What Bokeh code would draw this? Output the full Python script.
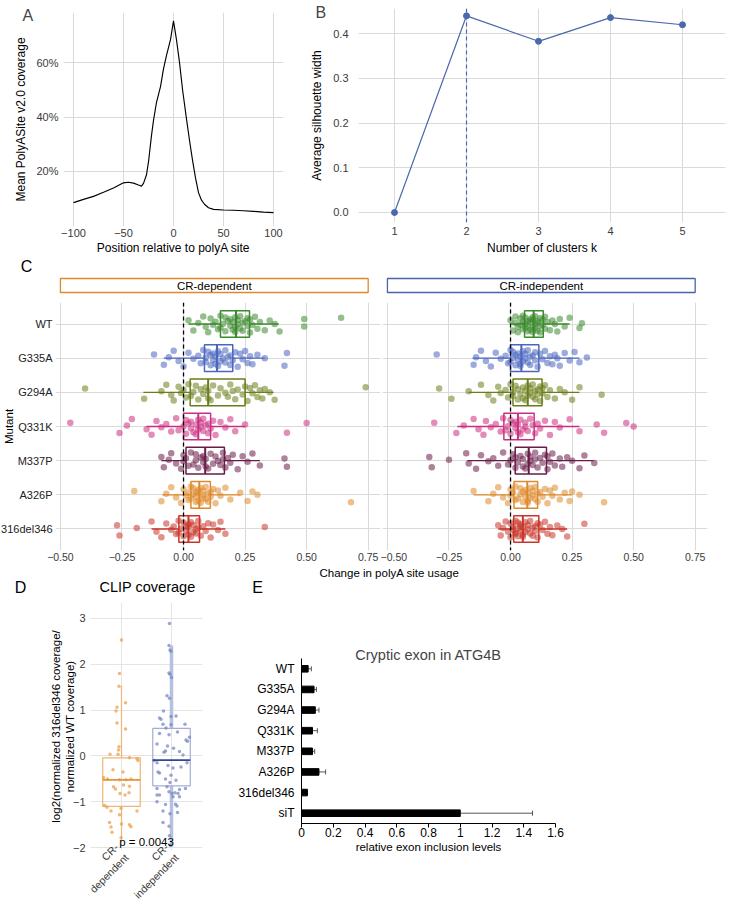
import math
from bokeh.plotting import figure
from bokeh.layouts import column, row
from bokeh.models import (Range1d, FactorRange, FixedTicker, Label, Span, Whisker, TeeHead, Title,
                          ColumnDataSource, CustomJSTickFormatter, PrintfTickFormatter)
from bokeh.embed import file_html
from bokeh.resources import INLINE

FONT = "Liberation Sans"
GRID = "#DADADA"
TICK_COLOR = "#3A3A3A"

# ---------------- Panel A data ----------------
A_POS = [-100, -90, -80, -70, -60, -50, -45, -40, -35, -32, -30, -27, -25, -22, -20, -17, -13, -10, -7, -3,
         0, 3, 6, 9, 13, 16, 19, 22, 25, 28, 31, 35, 40, 50, 60, 70, 80, 90, 100]
A_COV = [8.5, 9.7, 10.8, 12.3, 13.9, 15.8, 16.0, 15.7, 15.0, 14.6, 15.6, 18.8, 23.5, 33.3, 38.8, 45.5, 51.3, 57.8, 62.8, 68.6,
         75.5, 68.5, 60.2, 50.3, 39.3, 31.5, 24.2, 17.6, 12.2, 9.4, 7.9, 6.6, 6.0, 5.8, 5.7, 5.5, 5.3, 5.0, 4.8]
A_XTICKS = [-100, -50, 0, 50, 100]
A_YTICKS = [20, 40, 60]

# ---------------- Panel B data ----------------
B_K = [1, 2, 3, 4, 5]
B_SIL = [0.0, 0.44, 0.383, 0.436, 0.42]
B_BEST_K = 2
B_YTICKS = [0.0, 0.1, 0.2, 0.3, 0.4]

# ---------------- Panel C data ----------------
MUTANTS = ["WT", "G335A", "G294A", "Q331K", "M337P", "A326P", "316del346"]
MUT_COLORS = ["#3C8A2E", "#4A66C0", "#6B7D1A", "#CC2E80", "#6A1B48", "#DE8A2C", "#C9352A"]
C_XTICKS = [-0.5, -0.25, 0.0, 0.25, 0.5, 0.75]
STRIP_LABELS = ["CR-dependent", "CR-independent"]
STRIP_COLORS = ["#E0892A", "#4A63AA"]

DEP_WT = [0.02, 0.04, 0.06, 0.08, 0.09, 0.10, 0.11, 0.12, 0.13, 0.14, 0.15, 0.15, 0.16, 0.17, 0.17, 0.18, 0.19, 0.19, 0.20, 0.20,
          0.21, 0.21, 0.21, 0.22, 0.22, 0.23, 0.23, 0.24, 0.24, 0.25, 0.26, 0.26, 0.27, 0.27, 0.28, 0.29, 0.30, 0.31, 0.33, 0.35,
          0.37, 0.39, 0.49, 0.49, 0.64]
DEP_G335A = [-0.12, -0.08, -0.06, -0.04, -0.02, 0.0, 0.02, 0.04, 0.06, 0.07, 0.08, 0.09, 0.09, 0.10, 0.11, 0.11, 0.12, 0.12, 0.13, 0.13,
             0.14, 0.14, 0.15, 0.15, 0.16, 0.17, 0.17, 0.18, 0.19, 0.19, 0.20, 0.21, 0.22, 0.23, 0.24, 0.25, 0.26, 0.27, 0.28, 0.30,
             0.33, 0.41, 0.42]
DEP_G294A = [-0.40, -0.16, -0.09, -0.07, -0.05, -0.04, -0.02, -0.01, 0.0, 0.01, 0.02, 0.03, 0.04, 0.05, 0.06, 0.07, 0.08, 0.09, 0.10, 0.10,
             0.11, 0.12, 0.14, 0.15, 0.17, 0.18, 0.19, 0.20, 0.21, 0.22, 0.24, 0.25, 0.26, 0.27, 0.28, 0.29, 0.30, 0.31, 0.32, 0.33,
             0.35, 0.37, 0.74]
DEP_Q331K = [-0.46, -0.26, -0.23, -0.21, -0.15, -0.13, -0.11, -0.09, -0.07, -0.05, -0.03, -0.02, 0.0, 0.01, 0.01, 0.02, 0.03, 0.03, 0.04, 0.05,
             0.05, 0.06, 0.06, 0.07, 0.07, 0.08, 0.08, 0.09, 0.10, 0.10, 0.11, 0.12, 0.13, 0.15, 0.17, 0.19, 0.21, 0.25, 0.42, 0.50]
DEP_M337P = [-0.09, -0.08, -0.06, -0.05, -0.03, -0.01, 0.0, 0.0, 0.01, 0.02, 0.03, 0.04, 0.05, 0.05, 0.06, 0.07, 0.08, 0.08, 0.09, 0.09,
             0.10, 0.11, 0.12, 0.13, 0.14, 0.15, 0.16, 0.16, 0.17, 0.18, 0.19, 0.20, 0.22, 0.24, 0.26, 0.28, 0.31, 0.41, 0.42]
DEP_A326P = [-0.20, -0.09, -0.07, -0.05, -0.03, -0.01, 0.0, 0.01, 0.02, 0.02, 0.03, 0.03, 0.04, 0.04, 0.05, 0.05, 0.05, 0.06, 0.06, 0.06,
             0.07, 0.07, 0.08, 0.08, 0.08, 0.09, 0.09, 0.10, 0.10, 0.11, 0.11, 0.12, 0.13, 0.14, 0.15, 0.17, 0.19, 0.23, 0.26, 0.28,
             0.30, 0.68]
DEP_316DEL346 = [-0.27, -0.26, -0.19, -0.13, -0.11, -0.09, -0.07, -0.05, -0.04, -0.03, -0.02, -0.02, -0.01, 0.0, 0.0, 0.01, 0.01, 0.02, 0.02, 0.02,
                 0.03, 0.03, 0.04, 0.04, 0.05, 0.05, 0.06, 0.06, 0.07, 0.08, 0.09, 0.10, 0.11, 0.12, 0.14, 0.15, 0.17, 0.33]

IND_WT = [0.0, 0.01, 0.02, 0.02, 0.03, 0.03, 0.04, 0.04, 0.05, 0.05, 0.05, 0.06, 0.06, 0.06, 0.07, 0.07, 0.07, 0.08, 0.08, 0.08,
          0.09, 0.09, 0.09, 0.09, 0.10, 0.10, 0.10, 0.11, 0.11, 0.11, 0.12, 0.12, 0.12, 0.13, 0.13, 0.14, 0.14, 0.15, 0.16, 0.17,
          0.18, 0.19, 0.20, 0.22, 0.24, 0.28, 0.29]
IND_G335A = [-0.30, -0.15, -0.14, -0.12, -0.10, -0.08, -0.06, -0.04, -0.02, -0.01, 0.0, 0.0, 0.01, 0.01, 0.02, 0.02, 0.03, 0.03, 0.04, 0.04,
             0.04, 0.05, 0.05, 0.06, 0.06, 0.07, 0.07, 0.08, 0.08, 0.09, 0.10, 0.10, 0.11, 0.12, 0.13, 0.14, 0.15, 0.16, 0.17, 0.18,
             0.19, 0.20, 0.22, 0.24, 0.26, 0.28, 0.31]
IND_G294A = [-0.29, -0.24, -0.17, -0.12, -0.09, -0.07, -0.05, -0.04, -0.02, -0.01, 0.0, 0.01, 0.01, 0.02, 0.03, 0.03, 0.04, 0.05, 0.05, 0.06,
             0.06, 0.07, 0.07, 0.08, 0.08, 0.09, 0.09, 0.10, 0.10, 0.11, 0.11, 0.12, 0.12, 0.13, 0.13, 0.14, 0.15, 0.16, 0.18, 0.20,
             0.22, 0.25, 0.28, 0.37]
IND_Q331K = [-0.31, -0.22, -0.19, -0.15, -0.13, -0.11, -0.10, -0.08, -0.06, -0.04, -0.03, -0.02, -0.01, 0.0, 0.0, 0.01, 0.02, 0.02, 0.03, 0.03,
             0.04, 0.04, 0.05, 0.06, 0.06, 0.07, 0.08, 0.09, 0.10, 0.11, 0.12, 0.14, 0.16, 0.18, 0.20, 0.24, 0.28, 0.35, 0.38, 0.47,
             0.50]
IND_M337P = [-0.33, -0.32, -0.25, -0.18, -0.17, -0.14, -0.12, -0.09, -0.07, -0.05, -0.03, -0.01, 0.0, 0.01, 0.02, 0.02, 0.03, 0.04, 0.05, 0.05,
             0.06, 0.07, 0.07, 0.08, 0.08, 0.09, 0.10, 0.10, 0.11, 0.12, 0.13, 0.14, 0.15, 0.15, 0.16, 0.17, 0.18, 0.20, 0.21, 0.23,
             0.25, 0.28, 0.30, 0.34]
IND_A326P = [-0.15, -0.09, -0.07, -0.05, -0.03, -0.01, 0.0, 0.0, 0.01, 0.02, 0.02, 0.03, 0.04, 0.04, 0.05, 0.05, 0.06, 0.06, 0.07, 0.07,
             0.07, 0.08, 0.08, 0.09, 0.09, 0.10, 0.10, 0.11, 0.11, 0.12, 0.13, 0.14, 0.15, 0.16, 0.17, 0.18, 0.20, 0.22, 0.24, 0.25,
             0.28, 0.38]
IND_316DEL346 = [-0.05, -0.04, -0.03, -0.02, -0.01, 0.0, 0.0, 0.01, 0.01, 0.02, 0.02, 0.02, 0.03, 0.03, 0.03, 0.04, 0.04, 0.04, 0.05, 0.05,
                 0.05, 0.06, 0.06, 0.07, 0.07, 0.08, 0.08, 0.09, 0.09, 0.10, 0.10, 0.11, 0.11, 0.12, 0.13, 0.14, 0.15, 0.16, 0.17, 0.19,
                 0.21, 0.23, 0.30]

DEP_Q1 = [0.150, 0.085, 0.027, 0.000, 0.010, 0.030, -0.019]
DEP_MED = [0.213, 0.136, 0.100, 0.060, 0.088, 0.064, 0.020]
DEP_Q3 = [0.268, 0.200, 0.250, 0.110, 0.166, 0.109, 0.065]
DEP_WLO = [0.02, -0.08, -0.163, -0.15, -0.09, -0.086, -0.13]
DEP_WHI = [0.387, 0.33, 0.366, 0.25, 0.31, 0.23, 0.17]

IND_Q1 = [0.057, 0.000, 0.010, -0.027, 0.019, 0.014, 0.013]
IND_MED = [0.094, 0.044, 0.070, 0.030, 0.074, 0.068, 0.050]
IND_Q3 = [0.133, 0.115, 0.128, 0.096, 0.146, 0.110, 0.115]
IND_WLO = [0.0, -0.154, -0.17, -0.216, -0.175, -0.15, -0.05]
IND_WHI = [0.24, 0.28, 0.28, 0.28, 0.337, 0.25, 0.23]

# fixed vertical jitter pattern (category units)
JIT_C = [0.11, -0.19, 0.03, 0.22, -0.08, -0.24, 0.16, -0.02, 0.07, -0.15, 0.24, -0.11, 0.01, 0.19, -0.21, 0.09, -0.05,
         0.14, -0.17, 0.05, -0.23, 0.20, -0.09, 0.12, -0.01, -0.13, 0.23, 0.04, -0.20, 0.08, -0.06, 0.17, -0.25, 0.13,
         -0.03, 0.21, -0.14, 0.06, -0.18, 0.10, 0.00, -0.22, 0.15, -0.07, 0.18, -0.12, 0.02, -0.16, 0.25, -0.04]

# ---------------- Panel D data ----------------
D_GROUPS = ["CR-\ndependent", "CR-\nindependent"]
D_DEP_VALS = [2.53, 1.80, 1.52, 1.16, 1.06, 0.98, 0.72, 0.59, 0.20, 0.13, 0.04, 0.04, -0.04, -0.06, -0.10, -0.30, -0.35,
              -0.47, -0.50, -0.52, -0.52, -0.50, -0.63, -0.67, -0.72, -0.66, -0.82, -0.85, -0.80, -1.08, -1.12, -1.20,
              -1.14, -1.20, -1.28, -1.45, -1.48, -1.55, -1.50, -1.54, -1.66, -1.78]
D_DEP_JIT = [0.00, -0.04, -0.05, 0.08, -0.09, -0.11, -0.09, 0.08, -0.05, -0.06, -0.07, -0.23, 0.16, 0.31, 0.33, -0.17, 0.03,
             -0.36, -0.28, -0.04, 0.09, 0.19, 0.04, -0.16, -0.12, 0.16, -0.03, 0.07, 0.15, -0.34, -0.29, -0.21,
             -0.01, 0.31, -0.04, -0.24, 0.00, -0.21, 0.16, 0.19, -0.19, -0.01]
D_IND_VALS = [2.89, 2.41, 2.31, 2.28, 1.81, 1.78, 1.71, 1.31, 1.26, 0.98, 0.83, 0.80, 0.87, 0.86, 0.69, 0.68, 0.69, 0.61,
              0.52, 0.49, 0.46, 0.41, 0.35, 0.32, 0.26, 0.22, 0.17, 0.11, 0.08, 0.10, 0.02, -0.10, -0.15, -0.15, -0.21,
              -0.26, -0.24, -0.35, -0.37, -0.42, -0.50, -0.53, -0.58, -0.67, -0.71, -0.73, -0.71, -0.78, -0.85, -0.80,
              -0.82, -0.82, -0.89, -0.89, -0.85, -1.06, -1.00, -1.05, -1.09, -1.20, -1.23, -1.26, -1.45, -1.53, -1.74,
              -1.95]
D_IND_JIT = [-0.04, -0.05, -0.03, -0.01, -0.05, -0.03, 0.00, -0.09, -0.04, -0.16, -0.24, -0.21, 0.09, -0.01, -0.17, -0.01,
             0.27, -0.11, 0.12, -0.24, -0.05, 0.36, 0.29, 0.32, -0.29, -0.08, 0.04, -0.12, -0.15, 0.16, 0.23, -0.35,
             -0.29, 0.31, -0.07, 0.03, 0.19, -0.27, -0.24, -0.01, -0.12, 0.09, -0.03, -0.09, -0.29, 0.16, 0.28, -0.05,
             -0.29, 0.07, 0.01, 0.13, 0.03, 0.16, -0.24, -0.12, -0.29, 0.08, 0.11, -0.17, 0.12, -0.03, -0.17, -0.05,
             -0.04, -0.02]
D_Q1 = [-1.10, -0.65]
D_MED = [-0.52, -0.09]
D_Q3 = [-0.04, 0.60]
D_WLO = [-1.83, -1.98]
D_WHI = [1.53, 2.41]
D_YTICKS = [-2, -1, 0, 1, 2, 3]
D_P_TEXT = "p = 0.0043"
D_P_Y = -1.88

# ---------------- Panel E data ----------------
E_LABELS = ["WT", "G335A", "G294A", "Q331K", "M337P", "A326P", "316del346", "siT"]
E_VALS = [0.042, 0.079, 0.087, 0.069, 0.069, 0.110, 0.037, 1.0]
E_ERR = [0.020, 0.015, 0.023, 0.031, 0.014, 0.042, 0.0, 0.455]
E_XTICKS = [0, 0.2, 0.4, 0.6, 0.8, 1.0, 1.2, 1.4, 1.6]


def minus_fmt(decimals):
    return CustomJSTickFormatter(args=dict(d=decimals), code=(
        "const t = Math.abs(tick) < 1e-9 ? 0 : tick;"
        "const s = Math.abs(t).toFixed(d);"
        "return t < 0 ? '\u2212' + s : s;"))


def base_fig(width, height, x_range, y_range, mbl, mbr, mbt, mbb):
    p = figure(width=width, height=height, x_range=x_range, y_range=y_range,
               output_backend="svg", toolbar_location=None,
               min_border_left=mbl, min_border_right=mbr, min_border_top=mbt, min_border_bottom=mbb)
    p.outline_line_color = None
    p.background_fill_color = "white"
    p.border_fill_color = "white"
    for ax in p.axis:
        ax.axis_line_color = None
        ax.major_tick_line_color = None
        ax.minor_tick_line_color = None
        ax.major_tick_out = 0
        ax.major_tick_in = 0
        ax.minor_tick_out = 0
        ax.minor_tick_in = 0
        ax.major_label_text_font = FONT
        ax.major_label_text_font_size = "11px"
        ax.major_label_text_color = TICK_COLOR
        ax.axis_label_text_font = FONT
        ax.axis_label_text_font_size = "12px"
        ax.axis_label_text_font_style = "normal"
        ax.axis_label_text_color = "black"
    p.grid.grid_line_color = GRID
    p.grid.grid_line_width = 1
    return p


def bare_fig(width, height, x_range, y_range):
    p = figure(width=width, height=height, x_range=x_range, y_range=y_range,
               output_backend="svg", toolbar_location=None,
               min_border_left=0, min_border_right=0, min_border_top=0, min_border_bottom=0)
    p.outline_line_color = None
    p.axis.visible = False
    p.grid.visible = False
    p.background_fill_color = "white"
    p.border_fill_color = "white"
    return p


def add_text(p, text, x, y, size, x_units="screen", y_units="screen", align="center",
             baseline="middle", angle=0.0, color="black"):
    p.add_layout(Label(x=x, y=y, x_units=x_units, y_units=y_units, text=text, text_font=FONT,
                       text_font_size=size, text_align=align, text_baseline=baseline,
                       angle=angle, text_color=color))


def letter(p, text, offset, standoff):
    p.add_layout(Title(text=text, align="left", offset=offset, standoff=standoff, text_font=FONT,
                       text_font_size="16px", text_font_style="normal", vertical_align="bottom"), "above")


# ================= Panel A =================
pa = base_fig(295, 258, Range1d(-110, 110), Range1d(-0.3, 78.6), 63, 12, 12, 32)
pa.line(A_POS, A_COV, line_color="black", line_width=1.15)
pa.xaxis.ticker = FixedTicker(ticks=A_XTICKS)
pa.xaxis.formatter = minus_fmt(0)
pa.yaxis.ticker = FixedTicker(ticks=A_YTICKS)
pa.yaxis.formatter = PrintfTickFormatter(format="%d%%")
pa.xaxis.axis_label = "Position relative to polyA site"
pa.yaxis.axis_label = "Mean PolyASite v2.0 coverage"
pa.xaxis.major_label_standoff = 2
pa.xaxis.axis_label_standoff = 1
pa.yaxis.major_label_standoff = 5
pa.yaxis.axis_label_standoff = 5
letter(pa, "A", -41, -22)

# ================= Panel B =================
BLUE = "#4B68AD"
pb = base_fig(434, 258, Range1d(0.5, 5.597), Range1d(-0.0224, 0.4564), 63, 4, 8, 36)
pb.line(B_K, B_SIL, line_color=BLUE, line_width=1.2)
pb.scatter(B_K, B_SIL, size=6, fill_color=BLUE, line_color=BLUE)
pb.add_layout(Span(location=B_BEST_K, dimension="height", line_color=BLUE, line_dash="4 3", line_width=1.2))
pb.xaxis.ticker = FixedTicker(ticks=B_K)
pb.yaxis.ticker = FixedTicker(ticks=B_YTICKS)
pb.yaxis.formatter = PrintfTickFormatter(format="%.1f")
pb.xaxis.axis_label = "Number of clusters k"
pb.yaxis.axis_label = "Average silhouette width"
pb.xaxis.major_label_standoff = 4
pb.xaxis.axis_label_standoff = 3
pb.yaxis.major_label_standoff = 10
pb.yaxis.axis_label_standoff = 6
letter(pb, "B", -43, -25)

# ================= Panel C =================
C_XR = (-0.52, 0.80)
STRIP_X = (-0.5, 0.75)
C_FRAME_W = 325
C_L_BORDER = (55, 0)      # left facet: left / right border (px)
C_R_BORDER = (2, 22)      # right facet: left / right border (px)
C_SCALE = C_FRAME_W / (C_XR[1] - C_XR[0])

# strip headers: figures without borders whose x scale matches the facets
strip_l = bare_fig(380, 36, Range1d(C_XR[0] - C_L_BORDER[0] / C_SCALE, C_XR[1] + C_L_BORDER[1] / C_SCALE),
                   Range1d(-0.143, 2.43))
strip_r = bare_fig(349, 36, Range1d(C_XR[0] - C_R_BORDER[0] / C_SCALE, C_XR[1] + C_R_BORDER[1] / C_SCALE),
                   Range1d(-0.143, 2.43))
for ps, lab, col in zip([strip_l, strip_r], STRIP_LABELS, STRIP_COLORS):
    ps.quad(left=[STRIP_X[0]], right=[STRIP_X[1]], bottom=[0], top=[1], fill_color=None,
            line_color=col, line_width=1.3)
    add_text(ps, lab, (STRIP_X[0] + STRIP_X[1]) / 2, 0.5, "11.5px", x_units="data", y_units="data")
add_text(strip_l, "C", 26, 28, "16px")

DEP_POINTS = [DEP_WT, DEP_G335A, DEP_G294A, DEP_Q331K, DEP_M337P, DEP_A326P, DEP_316DEL346]
IND_POINTS = [IND_WT, IND_G335A, IND_G294A, IND_Q331K, IND_M337P, IND_A326P, IND_316DEL346]


def facet(p, points, q1, med, q3, wlo, whi):
    p.add_layout(Span(location=0, dimension="height", line_color="black", line_dash="4 3", line_width=1.3))
    for i, m in enumerate(MUTANTS):
        c = MUT_COLORS[i]
        p.segment(x0=[wlo[i], q3[i]], y0=[m, m], x1=[q1[i], whi[i]], y1=[m, m], line_color=c, line_width=1.3)
        vals = points[i]
        p.scatter(x=vals, y=[(m, j) for j in JIT_C[:len(vals)]], size=6.5, fill_color=c, fill_alpha=0.55,
                  line_color=None)
        p.hbar(y=[m], left=[q1[i]], right=[q3[i]], height=0.78, fill_color=None, line_color=c, line_width=1.5)
        p.segment(x0=[med[i]], y0=[(m, -0.39)], x1=[med[i]], y1=[(m, 0.39)], line_color=c, line_width=2)
    p.xaxis.ticker = FixedTicker(ticks=C_XTICKS)
    p.xaxis.formatter = minus_fmt(2)
    p.xaxis.major_label_text_font_size = "10.5px"
    p.xaxis.major_label_standoff = 2


mut_rev = list(reversed(MUTANTS))
pcl = base_fig(380, 271, Range1d(*C_XR), FactorRange(factors=mut_rev, range_padding=0.13,
                                                    range_padding_units="absolute"),
               C_L_BORDER[0], C_L_BORDER[1], 8, 15)
facet(pcl, DEP_POINTS, DEP_Q1, DEP_MED, DEP_Q3, DEP_WLO, DEP_WHI)
pcl.yaxis.major_label_standoff = 3
pcl.yaxis.major_label_text_color = "#222222"
pcl.yaxis.axis_label = "Mutant"
pcl.yaxis.axis_label_text_font_size = "11.5px"
pcl.yaxis.axis_label_standoff = -17

pcr = base_fig(349, 271, Range1d(*C_XR), FactorRange(factors=mut_rev, range_padding=0.13,
                                                    range_padding_units="absolute"),
               C_R_BORDER[0], C_R_BORDER[1], 8, 15)
facet(pcr, IND_POINTS, IND_Q1, IND_MED, IND_Q3, IND_WLO, IND_WHI)
pcr.yaxis.visible = False

# band between panel C and panels D/E: shared facet x-title and panel headings
band = bare_fig(729, 31, Range1d(0, 729), Range1d(0, 31))
add_text(band, "Change in polyA site usage", 389, 24, "11.5px")
add_text(band, "D", 20, 9, "16px")
add_text(band, "CLIP coverage", 147, 10, "14.5px")
add_text(band, "E", 257, 9, "16px")

# ================= Panel D =================
D_ORANGE = "#E9A24C"
D_ORANGE_BOX = "#EDB577"
D_ORANGE_MED = "#E3953A"
D_BLUE = "#7A88C4"
D_BLUE_BOX = "#A3ADD6"
D_BLUE_MED = "#2F4796"
D_BLUE_WHISK = "#B8C0E2"

pd_ = base_fig(235, 317, FactorRange(factors=D_GROUPS, range_padding=0.12, range_padding_units="absolute"),
               Range1d(-2.06, 3.345), 90, 33, 6, 60)
pd_.yaxis.ticker = FixedTicker(ticks=D_YTICKS)
pd_.yaxis.formatter = minus_fmt(0)
pd_.yaxis.major_label_standoff = 5
pd_.yaxis.axis_label = "log2(normalized 316del346 coverage/\nnormalized WT coverage)"
pd_.yaxis.axis_label_text_font_size = "11.5px"
pd_.yaxis.axis_label_standoff = -6
pd_.xaxis.major_label_orientation = math.pi / 4
pd_.xaxis.major_label_standoff = 0
pd_.xaxis.major_label_text_font_size = "10.5px"
pd_.grid.grid_line_color = "#E4E4E4"

d_box_cols = [D_ORANGE_BOX, D_BLUE_BOX]
d_whisk_cols = [D_ORANGE_BOX, D_BLUE_WHISK]
d_whisk_w = [1.2, 3.5]
d_med_cols = [D_ORANGE_MED, D_BLUE_MED]
for i, g in enumerate(D_GROUPS):
    pd_.segment(x0=[g, g], y0=[D_WLO[i], D_Q3[i]], x1=[g, g], y1=[D_Q1[i], D_WHI[i]],
                line_color=d_whisk_cols[i], line_width=d_whisk_w[i])
    pd_.vbar(x=[g], bottom=[D_Q1[i]], top=[D_Q3[i]], width=0.75, fill_color=None,
             line_color=d_box_cols[i], line_width=1.2)
pd_.scatter(x=[(D_GROUPS[0], j) for j in D_DEP_JIT], y=D_DEP_VALS, size=3.5, fill_color=D_ORANGE,
            fill_alpha=0.75, line_color=None)
pd_.scatter(x=[(D_GROUPS[1], j) for j in D_IND_JIT], y=D_IND_VALS, size=3.5, fill_color=D_BLUE,
            fill_alpha=0.75, line_color=None)
for i, g in enumerate(D_GROUPS):
    pd_.segment(x0=[(g, -0.375)], y0=[D_MED[i]], x1=[(g, 0.375)], y1=[D_MED[i]],
                line_color=d_med_cols[i], line_width=1.6)
add_text(pd_, D_P_TEXT, 56, D_P_Y, "11.5px", y_units="data")

# ================= Panel E =================
pe = base_fig(494, 317, Range1d(0, 1.6), FactorRange(factors=list(reversed(E_LABELS))), 63, 174, 62, 90)
pe.grid.visible = False
src_e = ColumnDataSource(dict(y=E_LABELS, v=E_VALS, hi=[v + e for v, e in zip(E_VALS, E_ERR)]))
pe.hbar(y="y", left=0, right="v", height=0.32, fill_color="black", line_color="black", source=src_e)
pe.add_layout(Whisker(source=src_e, base="y", lower="v", upper="hi", dimension="width",
                      line_color="#555555", line_width=1,
                      upper_head=TeeHead(size=5, line_color="#555555", line_width=1), lower_head=None))
pe.xaxis.ticker = FixedTicker(ticks=E_XTICKS)
pe.xaxis.formatter = PrintfTickFormatter(format="%g")
for ax in pe.axis:
    ax.axis_line_color = "black"
    ax.major_label_text_color = "black"
    ax.major_label_text_font_size = "12px"
pe.xaxis.major_tick_line_color = "black"
pe.xaxis.major_tick_out = 4
pe.xaxis.major_label_standoff = 0
pe.yaxis.major_label_standoff = 7
pe.xaxis.axis_label = "relative exon inclusion levels"
pe.xaxis.axis_label_text_font_size = "11.5px"
pe.xaxis.axis_label_standoff = 1
pe.title.text = "Cryptic exon in ATG4B"
pe.title.align = "center"
pe.title.text_font = FONT
pe.title.text_font_size = "14.5px"
pe.title.text_font_style = "normal"
pe.title.standoff = -8

# each plot wrapped in its own column so that frames in a row are not aligned to each other
layout = column(row(column(pa), column(pb)),
                row(strip_l, strip_r),
                row(pcl, pcr),
                band,
                row(column(pd_), column(pe)))
open("out.html", "w").write(file_html(layout, INLINE))
